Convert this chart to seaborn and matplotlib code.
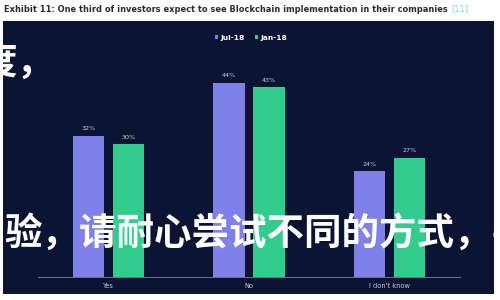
import matplotlib
matplotlib.use("Agg")
import matplotlib.pyplot as plt
from matplotlib.patches import Rectangle
import seaborn as sns
import pandas as pd

# ---- data ----
categories = ["Yes", "No", "I don't know"]
series_names = ["Jul-18", "Jan-18"]
jul_18 = [32, 44, 24]
jan_18 = [30, 43, 27]
title_text = "Exhibit 11: One third of investors expect to see Blockchain implementation in their companies"
title_ref = "[11]"
overlay_top = "度，"
overlay_mid = "验，请耐心尝试不同的方式，尝"

df = pd.DataFrame({
    "category": categories * 2,
    "series": [series_names[0]] * 3 + [series_names[1]] * 3,
    "value": jul_18 + jan_18,
})

sns.set_theme(style="white")
plt.rcParams["font.family"] = ["DejaVu Sans"]

W, H = 500, 300
fig = plt.figure(figsize=(5, 3), dpi=100, facecolor="white")

# dark panel
panel = Rectangle((3 / W, 1 - 294 / H), (494 - 3) / W, (294 - 21) / H,
                  transform=fig.transFigure, facecolor="#0b1433",
                  edgecolor="none", zorder=-5)
fig.patches.append(panel)

# title
t = fig.text(4 / W, 1 - 9 / H, title_text, fontsize=5.95, fontweight="bold",
             color="#2b2b2b", va="center", ha="left")
fig.canvas.draw()
bb = t.get_window_extent()
fig.text((bb.x1 + 3) / W, 1 - 9 / H, title_ref, fontsize=5.95,
         color="#7fd3c8", va="center", ha="left")

# axes
ax_left, ax_right, ax_top, ax_bottom = 38, 460, 60, 277
ax = fig.add_axes([ax_left / W, 1 - ax_bottom / H, (ax_right - ax_left) / W,
                   (ax_bottom - ax_top) / H])
ax.set_facecolor("none")
ax.set_zorder(1)

palette = {"Jul-18": "#8080e8", "Jan-18": "#33cc8c"}
sns.barplot(data=df, x="category", y="value", hue="series", order=categories,
            hue_order=series_names, palette=palette, width=0.57, gap=0.22,
            saturation=1, linewidth=0, ax=ax, legend=True)

for c in ax.containers:
    ax.bar_label(c, labels=[f"{int(v)}%" for v in c.datavalues],
                 color="#c8ccd8", fontsize=4.6, padding=3)

ax.set_ylim(0, (ax_bottom - ax_top) / 4.42)
ax.set_xlim(-0.5, 2.5)
ax.set_xlabel("")
ax.set_ylabel("")
ax.set_yticks([])
ax.tick_params(axis="x", length=0, pad=4, labelsize=4.8, labelcolor="#c8ccd8")
for s in ["top", "left", "right"]:
    ax.spines[s].set_visible(False)
ax.spines["bottom"].set_color("#6a7590")
ax.spines["bottom"].set_linewidth(0.7)

leg = ax.legend(loc="center", bbox_to_anchor=(251 / W, 1 - 38 / H),
                bbox_transform=fig.transFigure, ncol=2, frameon=False,
                fontsize=5.4, handlelength=0.5, handleheight=0.5,
                handletextpad=0.3, columnspacing=1.3)
for txt in leg.get_texts():
    txt.set_color("white")
    txt.set_fontweight("bold")
for h in leg.legend_handles:
    h.set_edgecolor("none")
    h.set_linewidth(0)

# overlay text
cjk = ["Noto Sans CJK SC", "DejaVu Sans"]
fig.text(-21 / W, 1 - 62 / H, overlay_top, fontsize=27, fontweight="bold",
         color="white", family=cjk, va="center", ha="left", zorder=10)
fig.text(4 / W, 1 - 233 / H, overlay_mid, fontsize=27, fontweight="bold",
         color="white", family=cjk, va="center", ha="left", zorder=10)

fig.savefig("out.png", dpi=100, facecolor="white")
